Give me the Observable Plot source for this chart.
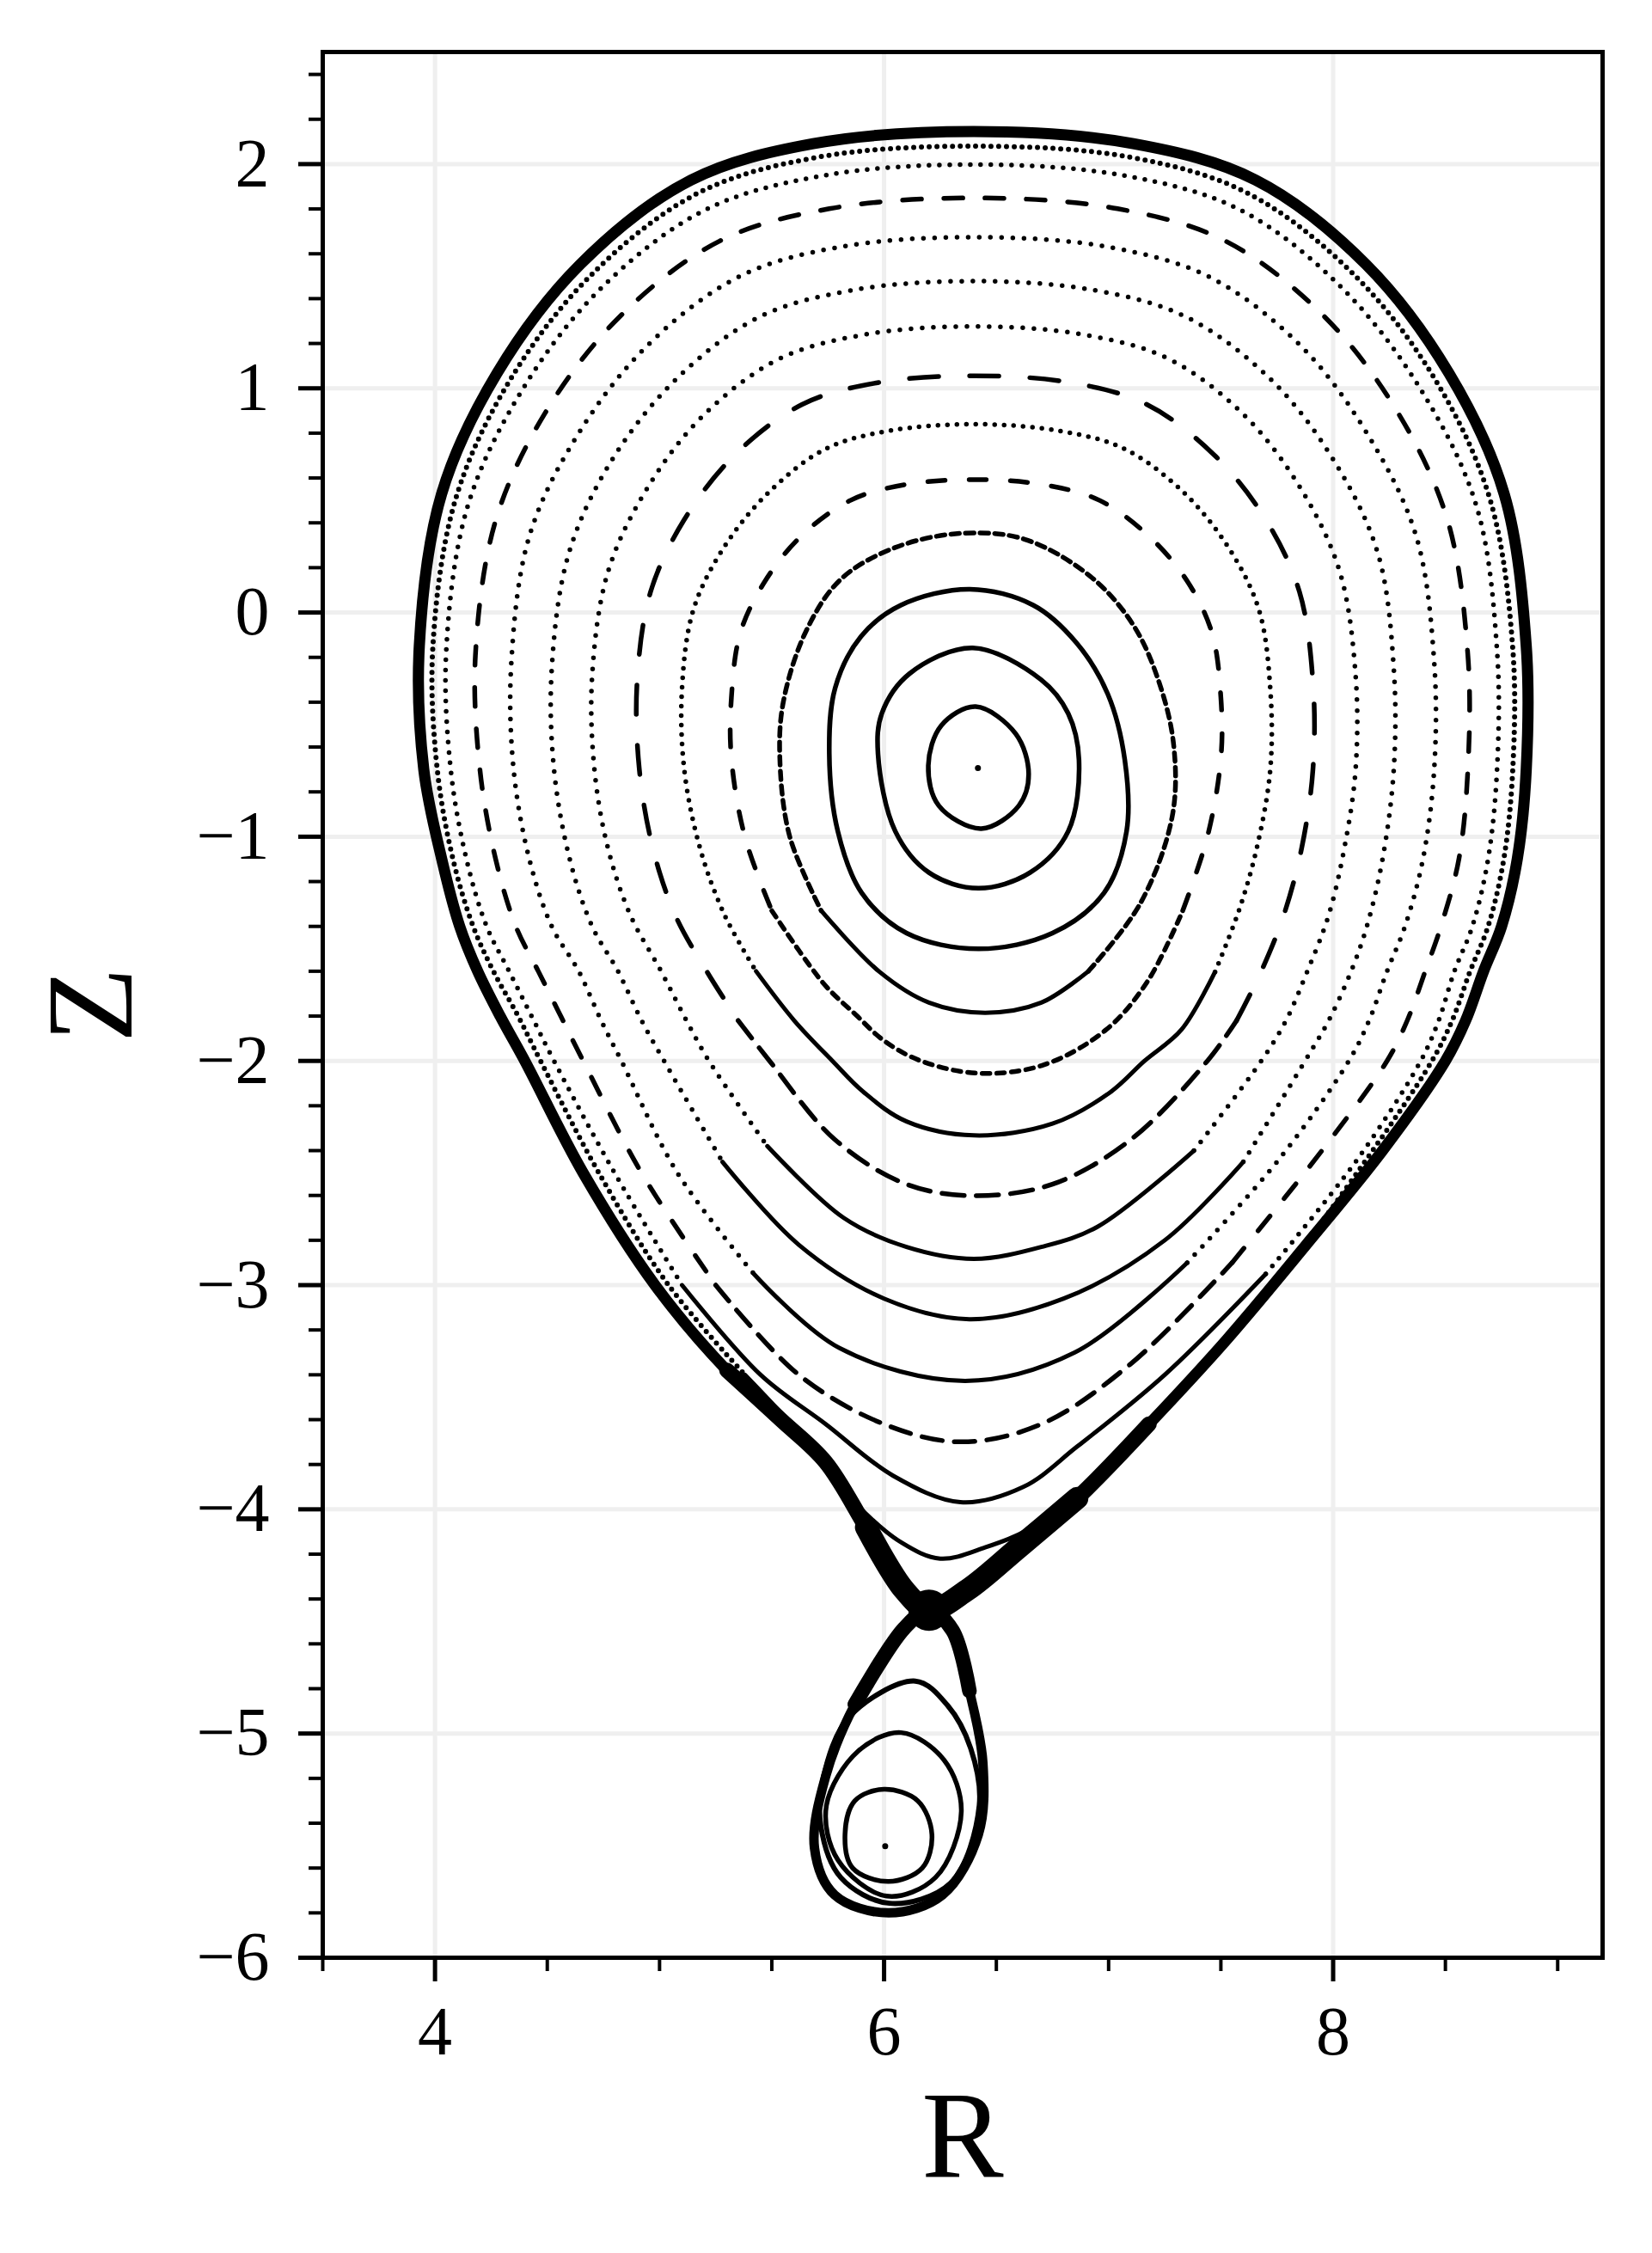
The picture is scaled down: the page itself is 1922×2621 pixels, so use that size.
<!DOCTYPE html>
<html><head><meta charset="utf-8">
<script src="https://cdn.jsdelivr.net/npm/d3@7"></script>
<script src="https://cdn.jsdelivr.net/npm/@observablehq/plot@0.6"></script>
<style>html,body{margin:0;padding:0;background:#fff}#chart{width:1922px;height:2621px}</style>
</head><body><div id="chart"></div>
<script>
// ---- axis ticks ----
const xMajorTicks = [4, 6, 8];
const xMinorTicks = [3.5, 4.5, 5, 5.5, 6.5, 7, 7.5, 8.5, 9];
const yMajorTicks = [-6, -5, -4, -3, -2, -1, 0, 1, 2];
const yMinorTicks = [-5.8,-5.6,-5.4,-5.2,-4.8,-4.6,-4.4,-4.2,-3.8,-3.6,-3.4,-3.2,-2.8,-2.6,-2.4,-2.2,-1.8,-1.6,-1.4,-1.2,-0.8,-0.6,-0.4,-0.2,0.2,0.4,0.6,0.8,1.2,1.4,1.6,1.8,2.2,2.4];

// ---- flux surfaces [R, Z] (top first, left side down, bottom, right side up) ----
const ring01 = [[6.408,-0.42],[6.255,-0.504],[6.197,-0.683],[6.244,-0.862],[6.433,-0.964],[6.600,-0.862],[6.644,-0.721],[6.587,-0.542]];
const ring02 = [[6.395,-0.158],[6.113,-0.273],[5.99,-0.45],[5.973,-0.631],[6.05,-0.976],[6.20,-1.16],[6.42,-1.23],[6.65,-1.16],[6.82,-0.976],[6.868,-0.657],[6.82,-0.45],[6.70,-0.30]];
const ring03 = [[6.382,0.104],[6.075,0.033],[5.897,-0.107],[5.782,-0.337],[5.756,-0.631],[5.794,-0.976],[5.90,-1.25],[6.10,-1.43],[6.42,-1.50],[6.75,-1.43],[6.98,-1.25],[7.08,-0.976],[7.072,-0.657],[6.996,-0.363],[6.855,-0.133],[6.664,0.033]];
const ring04 = [[6.343,0.353],[6.05,0.29],[5.807,0.148],[5.653,-0.082],[5.551,-0.40],[5.536,-0.657],[5.58,-1.0],[5.72,-1.33],[5.98,-1.603],[6.2,-1.74],[6.45,-1.785],[6.70,-1.74],[6.91,-1.60],[7.14,-1.30],[7.283,-0.911],[7.29,-0.593],[7.225,-0.312],[7.11,-0.056],[6.919,0.161],[6.625,0.327]];
const ring05 = [[6.40,0.593],[6.09,0.57],[5.85,0.50],[5.63,0.34],[5.47,0.14],[5.36,-0.09],[5.32,-0.38],[5.32,-0.65],[5.38,-1.0],[5.50,-1.33],[5.73,-1.654],[5.875,-1.795],[6.0,-1.91],[6.164,-2.0],[6.42,-2.055],[6.71,-2.018],[6.99,-1.86],[7.176,-1.641],[7.33,-1.33],[7.44,-1.0],[7.50,-0.65],[7.50,-0.38],[7.46,-0.09],[7.35,0.14],[7.18,0.34],[6.96,0.50],[6.71,0.57]];
const ring06 = [[6.40,0.84],[6.02,0.81],[5.74,0.73],[5.48,0.53],[5.28,0.28],[5.15,0.01],[5.10,-0.34],[5.11,-0.70],[5.18,-1.05],[5.29,-1.35],[5.43,-1.60],[5.60,-1.82],[5.77,-2.0],[5.91,-2.14],[6.10,-2.27],[6.40,-2.332],[6.75,-2.28],[7.007,-2.14],[7.16,-2.0],[7.325,-1.86],[7.474,-1.603],[7.58,-1.33],[7.66,-1.05],[7.72,-0.70],[7.72,-0.34],[7.67,0.01],[7.54,0.28],[7.34,0.53],[7.07,0.73],[6.78,0.81]];
const ring07 = [[6.40,1.056],[5.965,1.024],[5.635,0.928],[5.335,0.703],[5.11,0.414],[4.96,0.092],[4.90,-0.31],[4.91,-0.70],[4.97,-1.05],[5.07,-1.35],[5.21,-1.60],[5.35,-1.82],[5.49,-2.0],[5.78,-2.35],[6.10,-2.55],[6.40,-2.601],[6.75,-2.55],[7.10,-2.35],[7.44,-2.0],[7.57,-1.82],[7.68,-1.60],[7.78,-1.35],[7.86,-1.05],[7.91,-0.70],[7.91,-0.31],[7.85,0.092],[7.70,0.414],[7.47,0.703],[7.17,0.928],[6.84,1.024]];
const ring08 = [[6.40,1.276],[5.91,1.239],[5.53,1.13],[5.19,0.874],[4.94,0.546],[4.77,0.18],[4.70,-0.28],[4.71,-0.70],[4.77,-1.05],[4.87,-1.35],[5.007,-1.60],[5.12,-1.82],[5.22,-2.0],[5.48,-2.38],[5.82,-2.70],[6.10,-2.83],[6.40,-2.883],[6.70,-2.83],[6.95,-2.74],[7.38,-2.40],[7.68,-2.0],[7.79,-1.82],[7.885,-1.60],[7.98,-1.35],[8.05,-1.05],[8.10,-0.70],[8.10,-0.28],[8.03,0.18],[7.86,0.546],[7.61,0.874],[7.27,1.13],[6.89,1.239]];
const ring09 = [[6.40,1.478],[5.855,1.437],[5.44,1.316],[5.065,1.032],[4.78,0.667],[4.595,0.261],[4.52,-0.25],[4.53,-0.70],[4.60,-1.10],[4.70,-1.40],[4.815,-1.60],[4.92,-1.82],[5.02,-2.0],[5.28,-2.45],[5.62,-2.82],[6.00,-3.06],[6.38,-3.152],[6.80,-3.06],[7.25,-2.80],[7.60,-2.45],[7.875,-2.0],[7.98,-1.82],[8.08,-1.60],[8.15,-1.40],[8.22,-1.10],[8.27,-0.70],[8.27,-0.25],[8.20,0.261],[8.01,0.667],[7.73,1.032],[7.35,1.316],[6.94,1.437]];
const ring10 = [[6.40,1.674],[5.80,1.63],[5.35,1.496],[4.94,1.185],[4.63,0.784],[4.42,0.34],[4.34,-0.22],[4.35,-0.70],[4.42,-1.10],[4.52,-1.40],[4.64,-1.60],[4.74,-1.82],[4.83,-2.0],[5.08,-2.5],[5.42,-2.95],[5.80,-3.28],[6.36,-3.427],[6.85,-3.30],[7.35,-2.90],[7.75,-2.45],[8.07,-2.0],[8.16,-1.82],[8.24,-1.60],[8.32,-1.40],[8.40,-1.10],[8.45,-0.70],[8.45,-0.22],[8.37,0.34],[8.16,0.784],[7.86,1.185],[7.45,1.496],[7.00,1.63]];
const ring11 = [[6.40,1.849],[5.756,1.801],[5.268,1.657],[4.824,1.321],[4.49,0.889],[4.27,0.41],[4.18,-0.19],[4.20,-0.70],[4.27,-1.10],[4.36,-1.40],[4.46,-1.60],[4.56,-1.80],[4.66,-2.0],[4.92,-2.5],[5.25,-3.0],[5.62,-3.4],[6.0,-3.62],[6.34,-3.699],[6.70,-3.62],[7.10,-3.35],[7.55,-2.90],[7.95,-2.40],[8.24,-2.0],[8.33,-1.82],[8.41,-1.60],[8.48,-1.40],[8.56,-1.10],[8.60,-0.70],[8.60,-0.19],[8.51,0.41],[8.29,0.889],[7.96,1.321],[7.52,1.657],[7.04,1.801]];
const ring12 = [[6.40,1.998],[5.72,1.947],[5.20,1.794],[4.73,1.437],[4.38,0.979],[4.144,0.469],[4.05,-0.17],[4.07,-0.70],[4.14,-1.10],[4.23,-1.40],[4.33,-1.60],[4.43,-1.80],[4.53,-2.0],[4.80,-2.5],[5.10,-3.0],[5.45,-3.4],[5.74,-3.62],[6.04,-3.85],[6.34,-3.968],[6.62,-3.90],[6.86,-3.72],[7.25,-3.40],[7.70,-2.95],[8.10,-2.45],[8.39,-2.0],[8.47,-1.82],[8.54,-1.60],[8.62,-1.40],[8.69,-1.10],[8.73,-0.70],[8.73,-0.17],[8.64,0.469],[8.40,0.979],[8.05,1.437],[7.59,1.794],[7.08,1.947]];
const ring13 = [[6.40,2.08],[5.70,2.03],[5.17,1.87],[4.69,1.50],[4.33,1.03],[4.09,0.50],[3.99,-0.16],[4.01,-0.70],[4.08,-1.10],[4.17,-1.40],[4.26,-1.60],[4.37,-1.80],[4.47,-2.0],[4.73,-2.5],[5.04,-3.0],[5.38,-3.40],[5.64,-3.68],[5.88,-3.98],[6.08,-4.15],[6.25,-4.22],[6.45,-4.17],[6.66,-4.08],[6.95,-3.85],[7.30,-3.50],[7.72,-3.02],[8.12,-2.48],[8.44,-2.0],[8.53,-1.82],[8.61,-1.60],[8.69,-1.40],[8.76,-1.10],[8.80,-0.70],[8.80,-0.16],[8.70,0.50],[8.46,1.03],[8.10,1.50],[7.62,1.87],[7.10,2.03]];
const separatrix = [[6.40,2.145],[5.684,2.091],[5.14,1.929],[4.646,1.552],[4.276,1.067],[4.029,0.528],[3.93,-0.15],[3.95,-0.70],[4.03,-1.10],[4.11,-1.40],[4.19,-1.60],[4.29,-1.80],[4.40,-2.0],[4.66,-2.5],[4.98,-3.0],[5.30,-3.38],[5.54,-3.60],[5.74,-3.79],[5.92,-4.08],[6.09,-4.36],[6.20,-4.45],[6.37,-4.36],[6.60,-4.17],[6.86,-3.95],[7.18,-3.62],[7.52,-3.25],[7.88,-2.82],[8.22,-2.40],[8.50,-2.0],[8.59,-1.82],[8.67,-1.60],[8.75,-1.40],[8.82,-1.10],[8.86,-0.70],[8.86,-0.15],[8.762,0.528],[8.516,1.067],[8.147,1.552],[7.655,1.929],[7.11,2.091]];
// lower island (its separatrix starts at the bottom)
const islandSep = [[6.02,-5.80],[6.26,-5.72],[6.42,-5.45],[6.44,-5.13],[6.38,-4.81],[6.305,-4.54],[6.20,-4.45],[6.09,-4.53],[5.87,-4.87],[5.74,-5.19],[5.69,-5.51],[5.78,-5.72]];
const island3 = [[6.139,-4.766],[5.845,-4.926],[5.730,-5.194],[5.718,-5.411],[5.807,-5.642],[6.024,-5.757],[6.296,-5.667],[6.424,-5.322],[6.386,-5.067],[6.283,-4.875]];
const island2 = [[6.076,-4.996],[5.884,-5.079],[5.743,-5.322],[5.795,-5.565],[6.011,-5.725],[6.229,-5.642],[6.344,-5.348],[6.267,-5.118]];
const island1 = [[6.0,-5.249],[5.87,-5.30],[5.826,-5.45],[5.86,-5.60],[6.02,-5.66],[6.17,-5.60],[6.213,-5.45],[6.15,-5.30]];
const magneticAxis = [[6.418,-0.694]];
const islandAxis = [[6.005,-5.503]];
const xPoint = [[6.20,-4.45]];

// ---- styles: upper-part dash / lower-part dash, split at Z = split ----
const surfaces = [
  {pts: ring01, w: 5.5},
  {pts: ring02, w: 5.5},
  {pts: ring03, w: 5.5},
  {pts: ring04, w: 5.5, up: "10,7",  low: null,    split: -1.3},
  {pts: ring05, w: 5.5, up: "20,28", low: "9,8",   split: -1.3},
  {pts: ring06, w: 5.5, up: "0,11",  low: null,    split: -1.5},
  {pts: ring07, w: 5.5, up: "34,36", low: "26,14", split: -1.8},
  {pts: ring08, w: 5.5, up: "0,13",  low: null,    split: -2.3},
  {pts: ring09, w: 5.5, up: "0,13",  low: null,    split: -2.4},
  {pts: ring10, w: 5.5, up: "0,13",  low: null,    split: -2.5},
  {pts: ring11, w: 5.5, up: "22,26", low: "24,14", split: -2.8},
  {pts: ring12, w: 5.5, up: "0,12",  low: null,    split: -2.6},
  {pts: ring13, w: 6,   up: "0,9",   low: null,    split: -3.2},
  {pts: separatrix, w: 13},
  {pts: islandSep, w: 11},
  {pts: island3, w: 6},
  {pts: island2, w: 5.5},
  {pts: island1, w: 5.5}
];

const FONT = "'Liberation Serif', 'Times New Roman', serif";
const X = d => d[0], Y = d => d[1];
const lineOpts = (w, dash, curve) => ({x: X, y: Y, curve, stroke: "#000", strokeWidth: w,
  strokeDasharray: dash == null ? undefined : dash, strokeLinecap: "round", strokeLinejoin: "round"});
const marks = [
  Plot.gridX(xMajorTicks, {stroke: "#efefef", strokeOpacity: 1, strokeWidth: 5}),
  Plot.gridY(yMajorTicks, {stroke: "#efefef", strokeOpacity: 1, strokeWidth: 5})
];
for (const s of surfaces) {
  if (s.split === undefined) {
    marks.push(Plot.line(s.pts, lineOpts(s.w, undefined, "catmull-rom-closed")));
    continue;
  }
  const p = s.pts;
  const i = p.findIndex(d => d[1] < s.split);
  let j = p.length - 1; while (p[j][1] >= s.split) j--;
  const upper = p.slice(j).concat(p.slice(0, i + 1));
  const lower = p.slice(i, j + 1);
  marks.push(Plot.line(upper, lineOpts(s.w, s.up, "catmull-rom")));
  marks.push(Plot.line(lower, lineOpts(s.low == null ? 5 : s.w, s.low, "catmull-rom")));
}
// chaotic layer thickening towards the X-point
marks.push(Plot.line(separatrix.filter(d => d[1] < -3.3), {x: X, y: Y, curve: "catmull-rom", stroke: "#000", strokeWidth: 18, strokeLinecap: "round", strokeLinejoin: "round"}));
marks.push(Plot.line(separatrix.filter(d => d[1] < -3.9), {x: X, y: Y, curve: "catmull-rom", stroke: "#000", strokeWidth: 26, strokeLinecap: "round", strokeLinejoin: "round"}));
marks.push(Plot.line(islandSep.filter(d => d[1] > -4.95), {x: X, y: Y, curve: "catmull-rom", stroke: "#000", strokeWidth: 17, strokeLinecap: "round", strokeLinejoin: "round"}));
marks.push(Plot.dot(xPoint, {x: X, y: Y, r: 24, fill: "#000"}));
marks.push(Plot.dot(magneticAxis, {x: X, y: Y, r: 3.5, fill: "#000"}));
marks.push(Plot.dot(islandAxis, {x: X, y: Y, r: 3.5, fill: "#000"}));
// frame and axes
marks.push(Plot.frame({stroke: "#000", strokeWidth: 5}));
marks.push(Plot.axisX(xMajorTicks, {anchor: "bottom", tickSize: 28, tickPadding: 28, strokeWidth: 5, fontSize: 80, fontFamily: FONT, tickFormat: "d", label: null}));
marks.push(Plot.axisX(xMinorTicks, {anchor: "bottom", tickSize: 16, strokeWidth: 4, text: null, label: null}));
marks.push(Plot.axisY(yMajorTicks, {anchor: "left", tickSize: 28, tickPadding: 34, strokeWidth: 5, fontSize: 80, fontFamily: FONT, tickFormat: "d", label: null}));
marks.push(Plot.axisY(yMinorTicks, {anchor: "left", tickSize: 16, strokeWidth: 4, text: null, label: null}));
marks.push(Plot.text(["R"], {frameAnchor: "bottom", lineAnchor: "bottom", dy: 254, fontSize: 143, fontFamily: FONT, text: d => d}));
marks.push(Plot.text(["Z"], {frameAnchor: "left", textAnchor: "middle", lineAnchor: "middle", dx: -268, rotate: -90, fontSize: 143, fontFamily: FONT, text: d => d}));

const chart = Plot.plot({
  width: 1922, height: 2621,
  marginLeft: 375, marginRight: 58, marginTop: 60, marginBottom: 344,
  x: {domain: [3.5, 9.2]},
  y: {domain: [-6, 2.5]},
  style: {fontFamily: FONT, color: "#000", background: "#fff", fontSize: "80px"},
  marks
});
document.getElementById("chart").appendChild(chart);
</script>
</body></html>
